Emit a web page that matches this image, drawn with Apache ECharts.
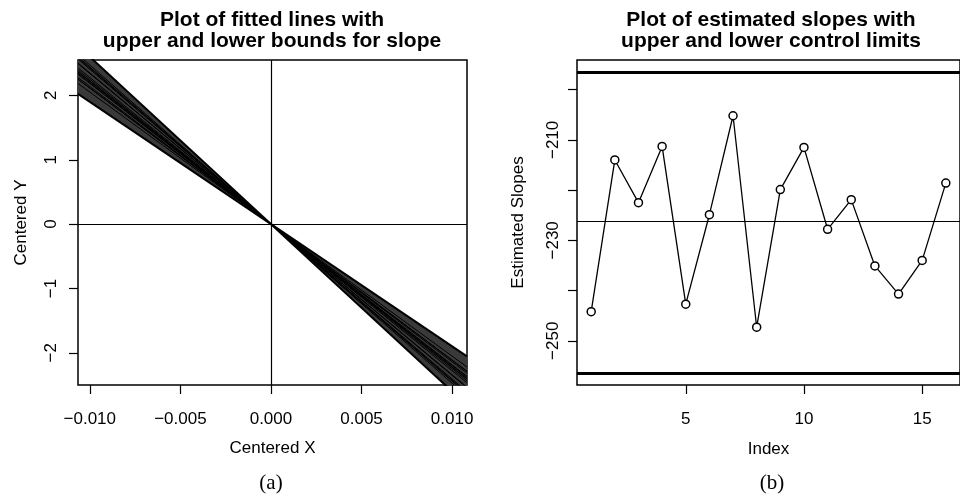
<!DOCTYPE html>
<html>
<head>
<meta charset="utf-8">
<script src="https://cdn.jsdelivr.net/npm/echarts@6/dist/echarts.min.js"></script>
<style>
  html, body { margin: 0; padding: 0; background: #fff; }
  #chart { width: 960px; height: 500px; }
</style>
</head>
<body>
<div id="chart"></div>
<script>
// panel (b): estimated slope per sample
var sampleIndex = [1, 2, 3, 4, 5, 6, 7, 8, 9, 10, 11, 12, 13, 14, 15, 16];
var slopes = [-244.2, -214.0, -222.5, -211.3, -242.7, -224.9, -205.2, -247.3,
              -219.9, -211.5, -227.8, -221.9, -235.1, -240.7, -234.0, -218.6];
var centerLine = -226.3;
var upperLimit = -196.5;
var lowerLimit = -256.4;

// panel (a): bounds of the slope fan
var slopeUpperBound = -190;
var slopeLowerBound = -260;

// tick values
var xTicksA = [-0.010, -0.005, 0.000, 0.005, 0.010];
var yTicksA = [-2, -1, 0, 1, 2];
var xTicksB = [5, 10, 15];
var yTicksB = [-250, -240, -230, -220, -210, -200];
var yLabelsB = [-250, -230, -210];

var xRangeA = [-0.01065, 0.01082];
var yRangeA = [-2.50, 2.55];
var xRangeB = [0.4, 16.6];
var yRangeB = [-258.8, -194.1];

var FONT = '"Liberation Sans", Arial, sans-serif';

function minus(s) { return String(s).replace('-', '\u2212'); }

function axis(opt) {
    return Object.assign({
        type: 'value',
        axisLine: { show: false, onZero: false },
        splitLine: { show: false },
        nameLocation: 'middle',
        nameTextStyle: { color: '#000', fontSize: 17, fontFamily: FONT }
    }, opt);
}

var chartDom = document.getElementById('chart');
var mychart = echarts.init(chartDom);

var fanSeries = slopes.concat([slopeUpperBound, slopeLowerBound]).map(function (s, i) {
    return {
        type: 'line',
        xAxisIndex: 0,
        yAxisIndex: 0,
        showSymbol: false,
        clip: true,
        lineStyle: { color: '#000', width: i >= slopes.length ? 2 : 1 },
        data: [[xRangeA[0], s * xRangeA[0]], [xRangeA[1], s * xRangeA[1]]],
        z: 3
    };
});

var tickStyle = { color: '#000', width: 1.2 };

var option = {
    animation: false,
    title: [
        {
            text: 'Plot of fitted lines with\nupper and lower bounds for slope',
            left: 272, top: 10, textAlign: 'center', padding: 0,
            textStyle: { fontSize: 21, fontWeight: 'bold', lineHeight: 21, fontFamily: FONT, color: '#000' }
        },
        {
            text: 'Plot of estimated slopes with\nupper and lower control limits',
            left: 771, top: 10, textAlign: 'center', padding: 0,
            textStyle: { fontSize: 21, fontWeight: 'bold', lineHeight: 21, fontFamily: FONT, color: '#000' }
        },
        {
            text: '(a)', left: 271, top: 473, textAlign: 'center', padding: 0,
            textStyle: { fontSize: 21, fontWeight: 'normal', fontFamily: '"Liberation Serif", serif', color: '#000' }
        },
        {
            text: '(b)', left: 772, top: 473, textAlign: 'center', padding: 0,
            textStyle: { fontSize: 21, fontWeight: 'normal', fontFamily: '"Liberation Serif", serif', color: '#000' }
        }
    ],
    grid: [
        { left: 78, top: 60, width: 389, height: 325, show: true, borderColor: '#000', borderWidth: 1.5, backgroundColor: 'transparent' },
        { left: 577, top: 60, width: 388, height: 325, show: true, borderColor: '#000', borderWidth: 1.5, backgroundColor: 'transparent' }
    ],
    xAxis: [
        axis({
            gridIndex: 0, min: xRangeA[0], max: xRangeA[1],
            name: 'Centered X', nameGap: 55,
            axisTick: { show: true, inside: false, length: 9, customValues: xTicksA, lineStyle: tickStyle },
            axisLabel: { color: '#000', fontSize: 17, fontFamily: FONT, margin: 26, customValues: xTicksA,
                formatter: function (v) { return minus(v.toFixed(3)); } }
        }),
        axis({
            gridIndex: 1, min: xRangeB[0], max: xRangeB[1],
            name: 'Index', nameGap: 56,
            axisTick: { show: true, inside: false, length: 9, customValues: xTicksB, lineStyle: tickStyle },
            axisLabel: { color: '#000', fontSize: 17, fontFamily: FONT, margin: 26, customValues: xTicksB }
        })
    ],
    yAxis: [
        axis({
            gridIndex: 0, min: yRangeA[0], max: yRangeA[1],
            name: 'Centered Y', nameGap: 48,
            axisTick: { show: true, inside: false, length: 9, customValues: yTicksA, lineStyle: tickStyle },
            axisLabel: { color: '#000', fontSize: 17, fontFamily: FONT, margin: 18, rotate: 90, customValues: yTicksA,
                formatter: function (v) { return minus(v); } }
        }),
        axis({
            gridIndex: 1, min: yRangeB[0], max: yRangeB[1],
            name: 'Estimated Slopes', nameGap: 50,
            axisTick: { show: true, inside: false, length: 9, customValues: yTicksB, lineStyle: tickStyle },
            axisLabel: { color: '#000', fontSize: 17, fontFamily: FONT, margin: 15, rotate: 90, customValues: yLabelsB,
                formatter: function (v) { return minus(v); } }
        })
    ],
    series: [
        {
            // shaded fan between the slope bounds
            type: 'custom',
            xAxisIndex: 0,
            yAxisIndex: 0,
            clip: true,
            silent: true,
            data: [[slopeUpperBound, slopeLowerBound]],
            renderItem: function (params, api) {
                var hi = api.value(0), lo = api.value(1);
                var pts = [
                    [xRangeA[0], lo * xRangeA[0]], [xRangeA[0], hi * xRangeA[0]], [0, 0],
                    [xRangeA[1], hi * xRangeA[1]], [xRangeA[1], lo * xRangeA[1]], [0, 0]
                ].map(function (p) { return api.coord(p); });
                var cs = params.coordSys;
                return {
                    type: 'polygon',
                    shape: { points: pts },
                    style: { fill: '#3a3a3a' },
                    clipPath: { type: 'rect', shape: { x: cs.x, y: cs.y, width: cs.width, height: cs.height } }
                };
            },
            z: 2
        },
        {
            type: 'line',
            xAxisIndex: 0,
            yAxisIndex: 0,
            data: [],
            markLine: {
                silent: true, symbol: 'none', label: { show: false },
                lineStyle: { color: '#000', width: 1.2, type: 'solid' },
                data: [{ xAxis: 0 }, { yAxis: 0 }]
            }
        }
    ].concat(fanSeries).concat([
        {
            name: 'Estimated Slopes',
            type: 'line',
            xAxisIndex: 1,
            yAxisIndex: 1,
            data: sampleIndex.map(function (x, i) { return [x, slopes[i]]; }),
            symbol: 'circle',
            symbolSize: 8,
            lineStyle: { color: '#000', width: 1.3 },
            itemStyle: { color: '#fff', borderColor: '#000', borderWidth: 1.5 },
            markLine: {
                silent: true, symbol: 'none', label: { show: false },
                data: [
                    { yAxis: centerLine, lineStyle: { color: '#000', width: 1.2, type: 'solid' } },
                    { yAxis: upperLimit, lineStyle: { color: '#000', width: 3, type: 'solid' } },
                    { yAxis: lowerLimit, lineStyle: { color: '#000', width: 3, type: 'solid' } }
                ]
            },
            z: 5
        }
    ])
};

option && mychart.setOption(option);
</script>
</body>
</html>
